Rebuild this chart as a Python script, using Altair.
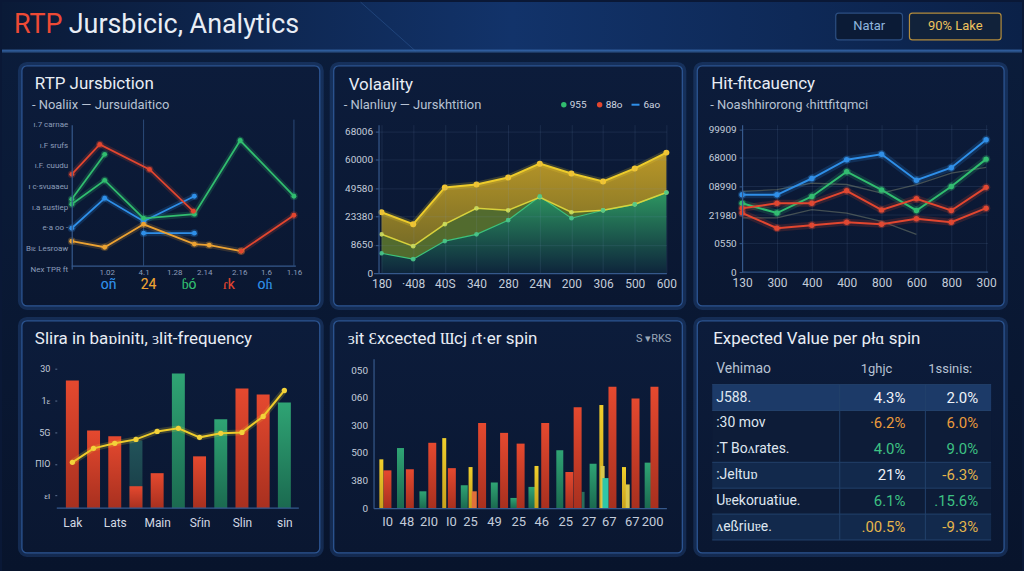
import json

import altair as alt
import pandas as pd

FONT = "Roboto"
INK = "#e8edf5"
SOFT = "#b7c2d3"
TICK_TXT = "#c3ccda"
TICK_DIM = "#8c9dba"
AXIS_LINE = "#36598c"
GRID = "#7fa0d0"
GRID_OPACITY = 0.13
RED = "#e2462f"
GREEN = "#31bd6f"
BLUE = "#2f8fe8"
ORANGE = "#eca232"
YELLOW = "#edcb2b"

# ------------------------------------------------------------------ header
HEAD_ACCENT = "RTP"
HEAD_REST = "Jursbicic, Analytics"
BUTTON_A = "Natar"
BUTTON_B = "90% Lake"

# ------------------------------------------------------------------ panel 1
P1_TITLE = "RTP Jursbiction"
P1_SUBTITLE = "- Noaliix  —  Jursuidaitico"
p1_x_ticks = [1.06, 2.18, 3.11, 4.02, 5.08, 5.89, 6.74]
p1_x_labels = ["1.02", "4.1", "1.28", "2.14", "2.16", "1.6", "1.16"]
p1_y_labels = ["Nex TPR ft", "Bıɛ Lesroaw", "e·a  oo -", "ı.a  sustiep",
               "ı c·svuaaeu", "ı.F. cuudu", "ı.F  srufs", "ı.7 carnae"]
p1_red_x = [0, 0.85, 2.36, 3.69]
p1_red_y = [4.59, 6.04, 4.83, 2.80]
p1_red2_x = [5.14, 6.74]
p1_red2_y = [0.87, 2.61]
p1_green_x = [0, 1.0, 2.18, 3.72, 5.11, 6.74]
p1_green_y = [3.14, 4.30, 2.46, 2.66, 6.23, 3.53]
p1_green2_x = [0, 1.0]
p1_green2_y = [3.38, 5.56]
p1_blue_x = [0, 1.0, 2.18, 3.72]
p1_blue_y = [1.98, 3.43, 2.32, 3.53]
p1_blue2_x = [2.18, 3.72]
p1_blue2_y = [1.74, 1.74]
p1_orange_x = [0, 1.0, 2.18, 3.72, 4.17, 5.14]
p1_orange_y = [1.35, 1.06, 2.17, 1.21, 1.16, 0.87]
p1_tags = ["oñ", "24", "ɓó", "ɾk", "oɦ"]
p1_tag_x = [1.12, 2.33, 3.56, 4.77, 5.86]
p1_tag_series = ["blue", "orange", "green", "red", "blue"]
p1_dividers = [2.18, 6.74]

# ------------------------------------------------------------------ panel 2
P2_TITLE = "Volaality"
P2_SUBTITLE = "- Nlanliuy  —  Jurskhtition"
P2_LEGEND = ["955", "88o", "6ao"]
p2_x_labels = ["180", "·408", "40S", "340", "280", "24Ν", "200", "306", "500", "600"]
p2_y_labels = ["0", "8650", "23380", "49580", "60000", "68006"]
p2_top = [2.15, 1.73, 3.03, 3.13, 3.38, 3.87, 3.52, 3.24, 3.70, 4.26]
p2_mid = [1.37, 0.95, 1.73, 2.29, 2.22, 2.68, 2.15, 2.22, 2.43, 2.85]
p2_low = [0.70, 0.49, 1.13, 1.37, 1.87, 2.71, 1.94, 2.22, 2.43, 2.85]

# ------------------------------------------------------------------ panel 3
P3_TITLE = "Hit-fitcauency"
P3_SUBTITLE = "- Noashhirorong ‹hittfitqmci"
p3_x_labels = ["130", "300", "400", "400", "800", "600", "800", "300"]
p3_y_labels = ["0", "0550", "21980", "08990", "68000", "99909"]
p3_blue = [2.71, 2.71, 3.28, 3.94, 4.13, 3.22, 3.66, 4.64]
p3_green = [2.41, 2.07, 2.65, 3.52, 2.88, 2.16, 3.00, 3.96]
p3_yellow = [2.24, 2.41, 2.41, 2.85, 2.18, 2.57, 2.16, 2.97]
p3_red = [2.07, 1.54, 1.64, 1.75, 1.68, 1.87, 1.75, 2.24]
p3_haze_a = [2.83, 2.89, 3.12, 3.07, 2.77, 3.07, 3.47, 3.67]
p3_haze_b = [1.90, 1.90, 2.19, 2.07, 1.78, 1.32]

# ------------------------------------------------------------------ panel 4
P4_TITLE = "Slira in baɒinitı, ɜlit-frequency"
p4_x_labels = ["Lak", "Lats", "Main", "Sŕin", "Slin", "sin"]
p4_y_labels = ["ɛı", "ΠIO", "5G", "1ɛ", "30"]
p4_red_x = [0, 1, 2, 3, 4, 6, 8, 9]
p4_red_v = [100.8, 61.4, 56.7, 17.3, 27.6, 40.9, 94.5, 89.8]
p4_green_x = [5, 7, 10]
p4_green_v = [106.3, 70.1, 83.5]
p4_teal_x = [3]
p4_teal_v = [53.5]
p4_line_v = [36.2, 47.2, 51.2, 54.3, 60.6, 63.0, 55.9, 59.1, 59.8, 72.4, 92.9]

# ------------------------------------------------------------------ panel 5
P5_TITLE = "ɜit Ɛxcected Ɯcj ɾt·er spin"
P5_TAG = "S ▾RKS"
p5_x_ticks = [0.4, 1.28, 2.3, 3.32, 4.2, 5.31, 6.42, 7.48, 8.58, 9.65, 10.58, 11.64, 12.57]
p5_x_labels = ["I0", "48", "2I0", "I0", "25", "49", "25", "46", "25", "27", "67", "67", "200"]
p5_y_labels = ["0", "380", "500", "300", "060", "050"]
p5_red_x = [0.41, 1.44, 2.47, 3.37, 4.76, 5.77, 6.53, 7.66, 8.77, 9.15, 10.75, 11.81, 12.68]
p5_red_v = [1.37, 1.41, 2.37, 1.45, 3.09, 2.73, 2.34, 3.09, 1.31, 3.66, 4.40, 3.98, 4.40]
p5_green_x = [1.01, 2.04, 3.94, 5.32, 6.22, 7.05, 8.33, 9.86, 12.39]
p5_green_v = [2.18, 0.61, 0.83, 0.93, 0.37, 0.77, 2.10, 1.61, 1.65]
p5_yellow_x = [0.13, 3.02, 4.23, 7.26, 10.24, 11.28]
p5_yellow_v = [1.77, 2.54, 1.49, 1.53, 3.74, 1.49]
p5_pale_x = [10.30, 11.45]
p5_pale_v = [1.53, 0.86]
p5_cyan_x = [10.43]
p5_cyan_v = [1.09]
p5_amber_x = [4.40]
p5_amber_v = [0.61]
p5_faint_x = [9.40]
p5_faint_v = [0.59]

# ------------------------------------------------------------------ panel 6
P6_TITLE = "Expected Value per ρłɑ spin"
ev_head = ["Vehimao", "1ghjc", "1ssinis:"]
ev_names = ["J588.", ":30 mov", ":T Boʌrates.", ":Jeltuɒ", "Uɐekoruatiue.", "ʌeßriuɐe."]
ev_first = ["4.3%", "·6.2%", "4.0%", "21%", "6.1%", ".00.5%"]
ev_second = ["2.0%", "6.0%", "9.0%", "-6.3%", ".15.6%", "-9.3%"]
ev_first_tone = ["base", "warn", "good", "base", "good", "gold"]
ev_second_tone = ["base", "warn", "good", "gold", "good", "gold"]
ev_groups = [[0], [1, 2], [3], [4], [5]]
ev_shades = ["hi", "lo", "mid", "lo", "mid"]

ONE = pd.DataFrame({"k": [0]})


# ------------------------------------------------------------------ helpers
def rect(x0, x1, y0, y1, **style):
    return alt.Chart(ONE).mark_rect(**style).encode(
        x=alt.value(x0), x2=alt.value(x1), y=alt.value(y0), y2=alt.value(y1)
    )


def rule(x0, x1, y0, y1, **style):
    return alt.Chart(ONE).mark_rule(**style).encode(
        x=alt.value(x0), x2=alt.value(x1), y=alt.value(y0), y2=alt.value(y1)
    )


def label(s, x, y, size, color, align="left", weight="normal"):
    return alt.Chart(ONE).mark_text(
        text=s, align=align, baseline="middle", font=FONT,
        fontSize=size, color=color, fontWeight=weight,
    ).encode(x=alt.value(x), y=alt.value(y))


def dot(x, y, color, size=30):
    return alt.Chart(ONE).mark_circle(color=color, size=size, opacity=1).encode(
        x=alt.value(x), y=alt.value(y)
    )


def grad(stops, horizontal=False):
    return alt.LinearGradient(
        gradient="linear",
        x1=0, y1=0, x2=1 if horizontal else 0, y2=0 if horizontal else 1,
        stops=[alt.GradientStop(offset=o, color=c) for o, c in stops],
    )


def card(x0, x1, y0, y1):
    return [
        rect(x0 - 2, x1 + 2, y0 - 2, y1 + 2, cornerRadius=7, fill="#000000",
             fillOpacity=0, stroke="#3f7ad0", strokeOpacity=0.22, strokeWidth=4),
        rect(x0, x1, y0, y1, cornerRadius=5,
             fill=grad([(0, "#0c1c3b"), (1, "#0a1731")]),
             stroke="#2c5592", strokeWidth=1.3),
    ]


def ax(values, labels, size, color, pad, **extra):
    spec = dict(
        values=values,
        labelExpr=f"{json.dumps(labels, ensure_ascii=False)}[indexof({json.dumps(values)}, datum.value)]",
        title=None, labelFont=FONT, labelFontSize=size, labelColor=color,
        labelPadding=pad, labelOverlap=False, labelFlush=False, labelBound=False,
        ticks=False, grid=False, gridColor=GRID, gridOpacity=GRID_OPACITY,
        domainColor=AXIS_LINE, domainWidth=1.2, zindex=1,
    )
    spec.update(extra)
    return alt.Axis(**spec)


def lines_frame(*series):
    rows = []
    for key, xs, ys in series:
        rows.extend({"s": key, "x": x, "y": y} for x, y in zip(xs, ys))
    return pd.DataFrame(rows)


def bars(xs, vs, x_enc, y_enc, width, fill):
    return alt.Chart(pd.DataFrame({"x": xs, "v": vs})).mark_bar(
        orient="vertical", size=width, fill=fill
    ).encode(x=x_enc, y=y_enc)


# ------------------------------------------------------------------ panel 1: lines by jurisdiction
P1_W, P1_H = 250, 145
P1_COLORS = {"red": RED, "red2": RED, "green": GREEN, "green2": GREEN,
             "blue": BLUE, "blue2": BLUE, "orange": ORANGE}
p1_x = alt.X("x:Q", scale=alt.Scale(domain=[-0.453, 7.10], nice=False, zero=False),
             axis=ax(p1_x_ticks, p1_x_labels, 8, TICK_DIM, -1, domain=False))
p1_y = alt.Y("y:Q", scale=alt.Scale(domain=[0, 7], nice=False),
             axis=ax(list(range(8)), p1_y_labels, 8, TICK_DIM, 4, offset=-15))
p1_color = alt.Color("s:N", scale=alt.Scale(domain=list(P1_COLORS), range=list(P1_COLORS.values())),
                     legend=None)
p1_df = lines_frame(
    ("green2", p1_green2_x, p1_green2_y), ("blue", p1_blue_x, p1_blue_y),
    ("blue2", p1_blue2_x, p1_blue2_y), ("orange", p1_orange_x, p1_orange_y),
    ("green", p1_green_x, p1_green_y), ("red2", p1_red2_x, p1_red2_y),
    ("red", p1_red_x, p1_red_y),
)
p1_tag_df = pd.DataFrame({"x": p1_tag_x, "t": p1_tags, "s": p1_tag_series})
p1_base = alt.Chart(p1_df).encode(x=p1_x, y=p1_y, color=p1_color)
p1_tags_base = alt.Chart(p1_tag_df).encode(x=p1_x, y=alt.value(161), text="t:N", color=p1_color)

p1 = alt.layer(
    # page background and header strip
    rect(-55, 969, -123, 448, fill=grad([(0, "#0b1d3c"), (1, "#08142c")])),
    rect(-55, 969, -123, -74,
         fill=grad([(0, "#0a1a37"), (0.5, "#12336a"), (1, "#0b2148")], horizontal=True)),
    rule(305, 360, -123, -74, color="#3d6fb0", strokeOpacity=0.35, strokeWidth=1),
    rule(-55, 969, -74, -74, color="#3b6cb0", strokeOpacity=0.35, strokeWidth=4),
    rule(-55, 969, -74, -74, color="#3566a8", strokeWidth=1.4),
    label(HEAD_ACCENT, -43, -100, 27, "#ec4a35"),
    label(HEAD_REST, 12, -100, 27, INK),
    rect(782, 849, -112, -85, cornerRadius=3, fill="#0b1b36", stroke="#2c4f82", strokeWidth=1.2),
    label(BUTTON_A, 815.5, -98.5, 13, "#8fb6de", align="center"),
    rect(856, 948, -112, -85, cornerRadius=3, fill="#11223a", stroke="#b38c3c", strokeWidth=1.2),
    label(BUTTON_B, 902, -98.5, 13, "#eec35e", align="center"),
    # panel card
    *card(-35, 264, -59, 182),
    label(P1_TITLE, -22, -41, 17, INK),
    label(P1_SUBTITLE, -25, -20, 13, SOFT),
    rule(15, 240, P1_H - 3, P1_H - 3, color=AXIS_LINE, strokeWidth=1.2),
    alt.Chart(pd.DataFrame({"x": p1_dividers})).mark_rule(color="#2b4a79", strokeWidth=1).encode(
        x=p1_x, y=alt.value(-5), y2=alt.value(P1_H - 3)),
    p1_base.mark_line(strokeWidth=6, opacity=0.18),
    p1_base.mark_line(strokeWidth=1.8),
    p1_base.mark_circle(size=60, opacity=0.25),
    p1_base.mark_circle(size=24, opacity=1),
    p1_tags_base.mark_text(font=FONT, fontSize=14, opacity=0.35, stroke="#ffffff", strokeOpacity=0.0,
                           dy=0.5),
    p1_tags_base.mark_text(font=FONT, fontSize=14),
).properties(width=P1_W, height=P1_H)

# ------------------------------------------------------------------ panel 2: stacked volatility bands
P2_W, P2_H = 294, 149
p2_df = pd.DataFrame({"x": list(range(10)), "top": p2_top, "mid": p2_mid, "low": p2_low})
p2_x = alt.X("x:Q", scale=alt.Scale(domain=[-0.252, 9.0], nice=False, zero=False),
             axis=ax(list(range(10)), p2_x_labels, 12, TICK_TXT, 6, grid=True))
p2_scale = alt.Scale(domain=[0, 5.25], nice=False)
p2_axis = ax(list(range(6)), p2_y_labels, 10, TICK_TXT, 3, grid=True,
             ticks=True, tickSize=3, tickColor=AXIS_LINE, offset=-5)


def p2y(field):
    return alt.Y(f"{field}:Q", scale=p2_scale, axis=p2_axis)


b2 = alt.Chart(p2_df)
p2 = alt.layer(
    *card(-40, 310, -59, 182),
    label(P2_TITLE, -25, -40, 17, INK),
    label(P2_SUBTITLE, -30, -20, 13, SOFT),
    dot(191, -20, GREEN, 30),
    label(P2_LEGEND[0], 197, -20, 10, "#cfd6e0"),
    dot(227, -20, RED, 30),
    label(P2_LEGEND[1], 233, -20, 10, "#cfd6e0"),
    rule(259, 267, -20, -20, color=BLUE, strokeWidth=2),
    label(P2_LEGEND[2], 271, -20, 10, "#cfd6e0"),
    b2.mark_area(fill=grad([(0, "#2f9c63"), (1, "#0e263c")]), opacity=0.95).encode(x=p2_x, y=p2y("low")),
    b2.mark_area(fill="#5f7a2e", opacity=0.85).encode(x=p2_x, y=p2y("mid"), y2="low:Q"),
    b2.mark_area(fill=grad([(0, "#c9a226"), (1, "#817426")]), opacity=0.92).encode(
        x=p2_x, y=p2y("top"), y2="mid:Q"),
    b2.mark_line(color="#3dc37c", strokeWidth=1.2).encode(x=p2_x, y=p2y("low")),
    b2.mark_line(color="#d8d23c", strokeWidth=1.6).encode(x=p2_x, y=p2y("mid")),
    b2.mark_line(color=YELLOW, strokeWidth=6, opacity=0.2).encode(x=p2_x, y=p2y("top")),
    b2.mark_line(color=YELLOW, strokeWidth=2).encode(x=p2_x, y=p2y("top")),
    b2.mark_circle(color="#f2c531", size=36, opacity=1).encode(x=p2_x, y=p2y("top")),
    b2.mark_circle(color="#cfe05a", size=22, opacity=0.9).encode(x=p2_x, y=p2y("mid")),
    b2.mark_circle(color="#48c988", size=22, opacity=0.9).encode(x=p2_x, y=p2y("low")),
).properties(width=P2_W, height=P2_H)

# ------------------------------------------------------------------ panel 3: hit-frequency lines
P3_W, P3_H = 277, 148
P3_COLORS = {"red": "#d9412f", "yellow": YELLOW, "green": "#34b86a", "blue": "#3392ea"}
p3_x = alt.X("x:Q", scale=alt.Scale(domain=[-0.857, 7.057], nice=False, zero=False),
             axis=ax(list(range(8)), p3_x_labels, 12, TICK_TXT, 6, grid=True, domain=False))
p3_y_scale = alt.Scale(domain=[0, 5.17], nice=False)
p3_y = alt.Y("y:Q", scale=p3_y_scale,
             axis=ax(list(range(6)), p3_y_labels, 10, TICK_TXT, 3,
                     ticks=True, tickSize=3, tickColor=AXIS_LINE, offset=-30))
p3_color = alt.Color("s:N", scale=alt.Scale(domain=list(P3_COLORS), range=list(P3_COLORS.values())),
                     legend=None)
idx8 = list(range(8))
p3_df = lines_frame(("red", idx8, p3_red), ("green", idx8, p3_green),
                    ("yellow", idx8, p3_yellow), ("blue", idx8, p3_blue))
p3_haze_df = lines_frame(("a", idx8, p3_haze_a), ("b", idx8[:6], p3_haze_b))
p3_base = alt.Chart(p3_df).encode(x=p3_x, y=p3_y, color=p3_color)

p3 = alt.layer(
    *card(-15, 293, -59, 182),
    label(P3_TITLE, -1, -41, 17, INK),
    label(P3_SUBTITLE, -2, -20, 13, SOFT),
    alt.Chart(pd.DataFrame({"y": list(range(1, 6))})).mark_rule(
        color=GRID, opacity=GRID_OPACITY, strokeWidth=1).encode(
        x=alt.value(30), x2=alt.value(P3_W), y=p3_y),
    rule(30, P3_W, P3_H, P3_H, color=AXIS_LINE, strokeWidth=1.2),
    alt.Chart(p3_haze_df).mark_line(color="#8a9278", strokeWidth=1.3, opacity=0.45).encode(
        x=p3_x, y=p3_y, detail="s:N"),
    p3_base.mark_line(strokeWidth=7, opacity=0.18),
    p3_base.mark_line(strokeWidth=2),
    p3_base.mark_circle(size=70, opacity=0.25),
    p3_base.mark_circle(size=30, opacity=1),
).properties(width=P3_W, height=P3_H)

# ------------------------------------------------------------------ panel 4: bars with trend line
P4_W, P4_H = 272, 150
p4_x = alt.X("x:Q", scale=alt.Scale(domain=[-0.5, 11.81], nice=False, zero=False),
             axis=ax([0, 2, 4, 6, 8, 10], p4_x_labels, 12, "#d2d9e4", 9, domain=False))
p4_y = alt.Y("v:Q", scale=alt.Scale(domain=[0, 118], nice=False),
             axis=ax([10, 35, 60, 85, 110], p4_y_labels, 9, TICK_TXT, 5, domain=False,
                     ticks=True, tickSize=2, tickColor="#5a6f90"))
p4_line_df = pd.DataFrame({"x": list(range(11)), "v": p4_line_v})
RED_FILL = grad([(0, "#e5492f"), (1, "#a8301f")])
GREEN_FILL = grad([(0, "#2fa474"), (1, "#1b6a50")])

p4 = alt.layer(
    *card(-35, 264, -38, 195),
    label(P4_TITLE, -22, -20, 17, INK),
    bars(p4_teal_x, p4_teal_v, p4_x, p4_y, 13, grad([(0, "#22535a"), (1, "#173a44")])),
    bars(p4_red_x, p4_red_v, p4_x, p4_y, 13, RED_FILL),
    bars(p4_green_x, p4_green_v, p4_x, p4_y, 13, GREEN_FILL),
    rule(0, 243, P4_H, P4_H, color="#34598f", strokeWidth=1.4),
    alt.Chart(p4_line_df).mark_line(color=YELLOW, strokeWidth=6, opacity=0.2).encode(x=p4_x, y=p4_y),
    alt.Chart(p4_line_df).mark_line(color=YELLOW, strokeWidth=2).encode(x=p4_x, y=p4_y),
    alt.Chart(p4_line_df).mark_circle(color="#f3d23a", size=28, opacity=1).encode(x=p4_x, y=p4_y),
).properties(width=P4_W, height=P4_H)

# ------------------------------------------------------------------ panel 5: grouped bars
P5_W, P5_H = 294, 150
p5_x = alt.X("x:Q", scale=alt.Scale(domain=[0, 13], nice=False, zero=False),
             axis=ax(p5_x_ticks, p5_x_labels, 13, TICK_TXT, 7))
p5_y = alt.Y("v:Q", scale=alt.Scale(domain=[0, 5.42], nice=False),
             axis=ax(list(range(6)), p5_y_labels, 10, TICK_TXT, 6))

p5 = alt.layer(
    *card(-40, 310, -38, 195),
    label(P5_TITLE, -26, -20, 17, INK),
    label(P5_TAG, 299, -20, 11, "#9aa7b8", align="right"),
    bars(p5_faint_x, p5_faint_v, p5_x, p5_y, 3, "#2a6d5c"),
    bars(p5_green_x, p5_green_v, p5_x, p5_y, 7, GREEN_FILL),
    bars(p5_red_x, p5_red_v, p5_x, p5_y, 8, RED_FILL),
    bars(p5_yellow_x, p5_yellow_v, p5_x, p5_y, 4, grad([(0, "#f0cf2c"), (1, "#c9a21d")])),
    bars(p5_pale_x, p5_pale_v, p5_x, p5_y, 4, "#d9c74e"),
    bars(p5_cyan_x, p5_cyan_v, p5_x, p5_y, 6, "#2fc7a8"),
    bars(p5_amber_x, p5_amber_v, p5_x, p5_y, 5, "#e0703a"),
).properties(width=P5_W, height=P5_H)

# ------------------------------------------------------------------ panel 6: expected value table
P6_W, P6_H = 280, 150
t_y = alt.Scale(domain=[-1.5, 4.27], reverse=True, nice=False, zero=False)
band_df = pd.DataFrame({
    "y0": [g[0] - 0.5 for g in ev_groups],
    "y1": [g[-1] + 0.5 for g in ev_groups],
    "shade": ev_shades,
})
edge_df = pd.DataFrame({"y": sorted({g[0] - 0.5 for g in ev_groups} | {ev_groups[-1][-1] + 0.5})})
span_df = pd.DataFrame({"y0": [ev_groups[0][0] - 0.5], "y1": [ev_groups[-1][-1] + 0.5]})
tbl = pd.DataFrame({
    "line": list(range(len(ev_names))), "name": ev_names,
    "a": ev_first, "b": ev_second, "ta": ev_first_tone, "tb": ev_second_tone,
})
tone = alt.Scale(domain=["base", "warn", "good", "gold"],
                 range=["#eef2f8", "#ea9b3c", "#3dc183", "#e4b54b"])
t_line = alt.Y("line:Q", scale=t_y, axis=None)


def value_col(field, tone_field, x):
    return alt.Chart(tbl).mark_text(
        align="right", baseline="middle", font=FONT, fontSize=15
    ).encode(x=alt.value(x), y=t_line, text=f"{field}:N",
             color=alt.Color(f"{tone_field}:N", scale=tone, legend=None))


p6 = alt.layer(
    *card(-15, 293, -38, 195),
    label(P6_TITLE, 1, -20, 17, INK),
    label(ev_head[0], 4, 10, 14, SOFT),
    label(ev_head[1], 165, 10, 13, SOFT, align="center"),
    label(ev_head[2], 239, 10, 13, SOFT, align="center"),
    alt.Chart(band_df).mark_rect().encode(
        x=alt.value(0), x2=alt.value(P6_W),
        y=alt.Y("y0:Q", scale=t_y, axis=None), y2="y1:Q",
        color=alt.Color("shade:N", scale=alt.Scale(domain=["hi", "lo", "mid"],
                                                   range=["#1c3a68", "#0d1c38", "#12294c"]),
                        legend=None)),
    alt.Chart(edge_df).mark_rule(color="#22406a", strokeWidth=1).encode(
        x=alt.value(0), x2=alt.value(P6_W), y=alt.Y("y:Q", scale=t_y, axis=None)),
    alt.Chart(span_df).mark_rule(color="#22406a", strokeWidth=1).encode(
        x=alt.value(128), y=alt.Y("y0:Q", scale=t_y, axis=None), y2="y1:Q"),
    alt.Chart(span_df).mark_rule(color="#22406a", strokeWidth=1).encode(
        x=alt.value(214), y=alt.Y("y0:Q", scale=t_y, axis=None), y2="y1:Q"),
    alt.Chart(tbl).mark_text(align="left", baseline="middle", font=FONT, fontSize=14,
                             color="#dfe6f0").encode(x=alt.value(4), y=t_line, text="name:N"),
    value_col("a", "ta", 194),
    value_col("b", "tb", 267),
).resolve_scale(color="independent").properties(width=P6_W, height=P6_H)

# ------------------------------------------------------------------ dashboard layout
chart = (
    alt.concat(p1, p2, p3, p4, p5, p6, columns=3, spacing={"row": 86, "column": 46},
               bounds="flush", align="each")
    .properties(padding=0, background="#0a1836")
    .configure_view(strokeWidth=0)
)

chart.save("out.html", embed_options={"renderer": "svg", "actions": False})
